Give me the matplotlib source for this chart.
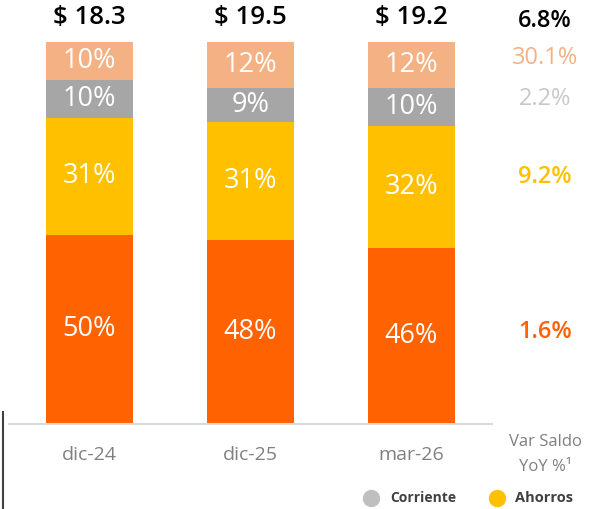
import matplotlib
matplotlib.use("Agg")
import matplotlib.pyplot as plt

plt.rcParams["font.family"] = ["Open Sans", "DejaVu Sans"]

categories = ["dic-24", "dic-25", "mar-26"]
totals = ["$ 18.3", "$ 19.5", "$ 19.2"]
# segment shares, bottom to top
orange_pct = [50, 48, 46]
yellow_pct = [31, 31, 32]
gray_pct = [10, 9, 10]
peach_pct = [10, 12, 12]
yoy_labels = ["6.8%", "30.1%", "2.2%", "9.2%", "1.6%"]

c_orange = "#FF6200"
c_yellow = "#FFC000"
c_gray = "#A6A6A6"
c_peach = "#F4B183"

W, H = 589, 509
fig = plt.figure(figsize=(W / 100, H / 100), dpi=100)
ax = fig.add_axes([9 / W, 85.5 / H, (492 - 9) / W, (H - 85.5) / H])
ax.set_xlim(-0.5, 2.5)
ax.set_ylim(0, 100 * 423.5 / 381.5)
ax.axis("off")

x = list(range(len(categories)))
width = 0.54
for i in x:
    segs = [orange_pct[i], yellow_pct[i], gray_pct[i], peach_pct[i]]
    cols = [c_orange, c_yellow, c_gray, c_peach]
    tot = sum(segs)
    bottom = 0
    for v, c in zip(segs, cols):
        h = v / tot * 100
        ax.bar(i, h, width, bottom=bottom, color=c, edgecolor="none")
        ax.text(i, bottom + h / 2, f"{v}%", ha="center", va="center",
                color="white", fontsize=19.5, fontweight="medium")
        bottom += h
    ax.text(i, 106.3, totals[i], ha="center", va="center", fontsize=18.5,
            fontweight="semibold", color="black")
    ax.text(i, -8.3, categories[i], ha="center", va="center", fontsize=14,
            color="#808080")

# baseline
ax.plot([-0.5, 2.5], [0, 0], color="#D9D9D9", lw=1.5, clip_on=False)

# YoY column
xr = 2.83
yoy_y = [105.6, 95.8, 85.1, 64.6, 24.0]
yoy_c = ["black", c_peach, "#C8C8C8", c_yellow, c_orange]
yoy_w = ["semibold", "medium", "medium", "semibold", "semibold"]
for lab, yy, cc, ww in zip(yoy_labels, yoy_y, yoy_c, yoy_w):
    ax.text(xr, yy, lab, ha="center", va="center", fontsize=17,
            fontweight=ww, color=cc, clip_on=False)
ax.text(xr, -4.8, "Var Saldo", ha="center", va="center", fontsize=12,
        color="#808080")
ax.text(xr, -11.4, "YoY %¹", ha="center", va="center", fontsize=12,
        color="#808080")

# legend
ax.plot([1.748], [-19.5], "o", ms=11.5, color="#BFBFBF", clip_on=False)
ax.text(1.866, -19.5, "Corriente", ha="left", va="center", fontsize=10,
        fontweight="bold", color="#404040")
ax.plot([2.531], [-19.5], "o", ms=11.5, color=c_yellow, clip_on=False)
ax.text(2.643, -19.5, "Ahorros", ha="left", va="center", fontsize=10.5,
        fontweight="bold", color="#404040")

# left marker line
fig.add_artist(plt.Line2D([2.5 / W, 2.5 / W], [0, 97 / H], color="#404040",
                          lw=1.5))

fig.savefig("out.png", dpi=100)
